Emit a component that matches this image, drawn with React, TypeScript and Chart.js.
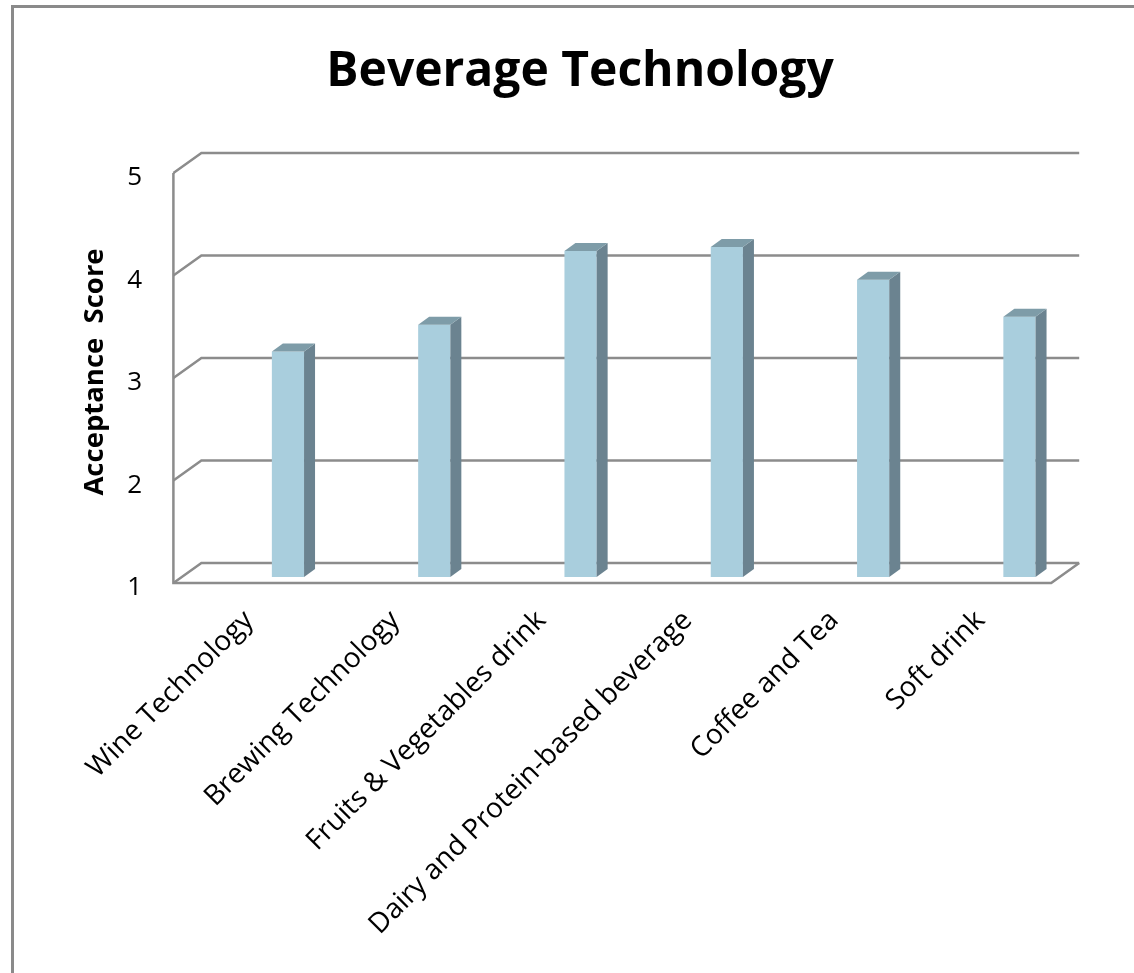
import React, { useEffect, useRef } from 'react';
import { Chart, registerables } from 'chart.js';

Chart.register(...registerables);

const categories = [
  'Wine Technology',
  'Brewing Technology',
  'Fruits & Vegetables drink',
  'Dairy and Protein-based beverage',
  'Coffee and Tea',
  'Soft drink',
];
const scores = [3.2, 3.46, 4.18, 4.22, 3.9, 3.54];
const yTicks = [1, 2, 3, 4, 5];
const chartTitle = 'Beverage Technology';
const yAxisTitle = 'Acceptance  Score';

const FONT = "'Open Sans', 'DejaVu Sans', sans-serif";
const GRID = '#8c8c8c';
const FRONT = '#a9cedd';
const SIDE = '#6b8390';
const TOP = '#7e9ca8';

// 3D geometry offsets relative to the bar front plane
const FRONT_DX = -8.4;
const FRONT_DY = 6;
const BACK_DX = 19.6;
const BACK_DY = -14;
const FLOOR_SHIFT = -33;
const BAR_DX = 11;
const BAR_DY = -8;

const threeD = {
  id: 'threeD',
  beforeDatasetsDraw(chart: any) {
    const { ctx, chartArea, scales } = chart;
    const y = scales.y;
    const L = chartArea.left + FLOOR_SHIFT;
    const R = chartArea.right + FLOOR_SHIFT;
    ctx.save();
    ctx.strokeStyle = GRID;
    ctx.lineWidth = 2.5;
    ctx.lineJoin = 'miter';
    for (const v of yTicks) {
      const yp = y.getPixelForValue(v);
      ctx.beginPath();
      ctx.moveTo(L + FRONT_DX, yp + FRONT_DY);
      ctx.lineTo(L + BACK_DX, yp + BACK_DY);
      ctx.lineTo(R + BACK_DX, yp + BACK_DY);
      ctx.stroke();
    }
    const yMin = y.getPixelForValue(y.min);
    const yMax = y.getPixelForValue(y.max);
    ctx.beginPath();
    ctx.moveTo(L + FRONT_DX, yMax + FRONT_DY);
    ctx.lineTo(L + FRONT_DX, yMin + FRONT_DY);
    ctx.lineTo(R + FRONT_DX, yMin + FRONT_DY);
    ctx.lineTo(R + BACK_DX, yMin + BACK_DY);
    ctx.stroke();
    ctx.restore();
  },
  afterDatasetsDraw(chart: any) {
    const { ctx, scales } = chart;
    const meta = chart.getDatasetMeta(0);
    const base = scales.y.getPixelForValue(scales.y.min);
    ctx.save();
    for (const bar of meta.data) {
      const { x, y, width } = bar.getProps(['x', 'y', 'width'], true);
      const l = x - width / 2;
      const r = x + width / 2;
      ctx.fillStyle = SIDE;
      ctx.beginPath();
      ctx.moveTo(r, y);
      ctx.lineTo(r + BAR_DX, y + BAR_DY);
      ctx.lineTo(r + BAR_DX, base + BAR_DY);
      ctx.lineTo(r, base);
      ctx.closePath();
      ctx.fill();
      ctx.fillStyle = TOP;
      ctx.beginPath();
      ctx.moveTo(l, y);
      ctx.lineTo(l + BAR_DX, y + BAR_DY);
      ctx.lineTo(r + BAR_DX, y + BAR_DY);
      ctx.lineTo(r, y);
      ctx.closePath();
      ctx.fill();
    }
    ctx.restore();
  },
};

export default function App() {
  const ref = useRef<HTMLCanvasElement | null>(null);

  useEffect(() => {
    if (!ref.current) return;
    const chart = new Chart(ref.current, {
      type: 'bar',
      data: {
        labels: categories,
        datasets: [
          {
            data: scores,
            backgroundColor: FRONT,
            borderWidth: 0,
            categoryPercentage: 1,
            barPercentage: 0.22,
          },
        ],
      },
      options: {
        animation: false,
        responsive: true,
        maintainAspectRatio: false,
        layout: { padding: { left: 67.4, right: 41.4, top: 0, bottom: 0 } },
        plugins: {
          legend: { display: false },
          tooltip: { enabled: false },
          title: {
            display: true,
            text: chartTitle,
            color: '#000',
            font: { family: FONT, size: 48, weight: 'bold', lineHeight: 1.2 },
            padding: { top: 43.2, bottom: 66.2 },
          },
        },
        scales: {
          x: {
            type: 'category',
            grid: { display: false, drawTicks: false },
            border: { display: false },
            ticks: {
              autoSkip: false,
              maxRotation: 45,
              minRotation: 45,
              labelOffset: -39,
              padding: 27,
              color: '#000',
              font: { family: FONT, size: 28 },
            },
            afterFit(s: any) {
              s.height = 396;
            },
          },
          y: {
            min: 1,
            max: 5,
            grid: { display: false, drawTicks: false },
            border: { display: false },
            ticks: {
              stepSize: 1,
              padding: 72.8,
              labelOffset: 11,
              color: '#000',
              font: { family: FONT, size: 26 },
            },
            title: {
              display: true,
              text: yAxisTitle,
              color: '#000',
              font: { family: FONT, size: 27.5, weight: 'bold', lineHeight: 1.2 },
              padding: { top: 11.1, bottom: 0 },
            },
            afterFit(s: any) {
              s.width = 147.4;
            },
          },
        },
      } as any,
      plugins: [threeD],
    });
    return () => chart.destroy();
  }, []);

  return (
    <div
      style={{
        position: 'absolute',
        left: 0,
        top: 0,
        width: 1134,
        height: 973,
        background: '#fff',
        overflow: 'hidden',
      }}
    >
      <div
        style={{
          position: 'absolute',
          left: 11,
          top: 5,
          width: 1134,
          height: 973,
          borderLeft: '3px solid #8a8a8a',
          borderTop: '3px solid #8a8a8a',
        }}
      />
      <canvas ref={ref} style={{ position: 'absolute', left: 0, top: 0, display: 'block' }} />
    </div>
  );
}
